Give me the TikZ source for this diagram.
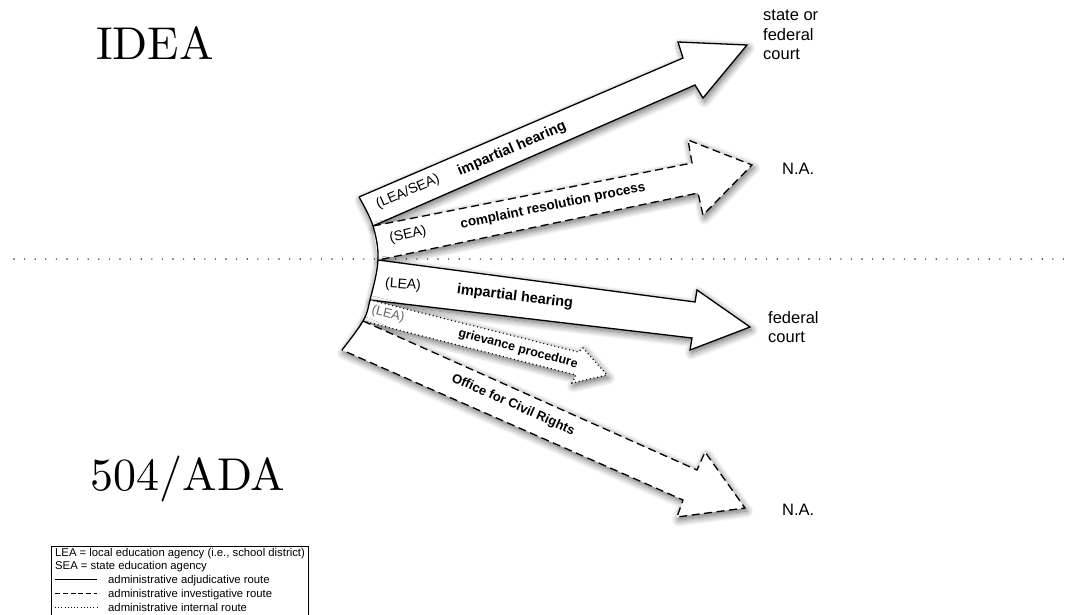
\documentclass[tikz,border=0pt]{standalone}
\usepackage{fontspec}
\newfontfamily\arial{Liberation Sans}
\newfontfamily\titlefont{lmroman10-regular}[Extension=.otf]
\usetikzlibrary{shadows.blur}
\begin{document}
\begin{tikzpicture}[x=1pt,y=-1pt,
  arrowfill/.style={fill=white, blur shadow={shadow xshift=1.5pt, shadow yshift=-3pt, shadow blur radius=7pt, shadow blur steps=10, shadow opacity=60}},
  solidedge/.style={draw=black, line width=1.3pt, line join=miter},
  dashedge/.style={draw=black, line width=1.3pt, dash pattern=on 8pt off 4.5pt},
  dotedge/.style={draw=black, line width=1.2pt, dash pattern=on 1pt off 2.8pt},
  tailline/.style={draw=black, line width=1.3pt},
  hdots/.style={draw=black!80, line width=1.6pt, line cap=round, dash pattern=on 0pt off 10.6pt},
  lbl/.style={font=\arial\fontsize{14}{16}\selectfont, inner sep=0pt},
  blbl/.style={font=\arial\bfseries\fontsize{14.5}{16}\selectfont, inner sep=0pt},
  dest/.style={font=\arial\fontsize{16.5}{19.5}\selectfont, align=left, inner sep=0pt},
  bigtitle/.style={font=\titlefont\fontsize{46}{56}\selectfont, inner sep=0pt, anchor=base},
  leg/.style={font=\arial\fontsize{11.3}{13}\selectfont, inner sep=0pt, anchor=base west},
  legbox/.style={draw=black, line width=0.7pt},
]
\useasboundingbox (0,0) rectangle (1078,615);
\clip (0,0) rectangle (1078,615);

% dotted divider
\coordinate (h0) at (14,259);
\coordinate (h1) at (1072,259);
\draw[hdots] (h0) -- (h1);

% tail points on the common curve
\coordinate (c0) at (359,197);
\coordinate (c1) at (373,226);
\coordinate (c2) at (378,260);
\coordinate (c3) at (370,300);
\coordinate (c4) at (363,321);
\coordinate (c5) at (342,350);

% arrow 1: IDEA impartial hearing
\coordinate (a1ju) at (683,58);  \coordinate (a1bu) at (678,42);
\coordinate (a1t) at (747,45);
\coordinate (a1bl) at (703,98);  \coordinate (a1jl) at (695,85);
\fill[arrowfill] (c0) -- (a1ju) -- (a1bu) -- (a1t) -- (a1bl) -- (a1jl) -- (c1) -- cycle;
\draw[solidedge] (c0) -- (a1ju) -- (a1bu) -- (a1t) -- (a1bl) -- (a1jl) -- (c1);

% arrow 2: complaint resolution process
\coordinate (a2ju) at (692,163); \coordinate (a2bu) at (688,140);
\coordinate (a2t) at (752,165);
\coordinate (a2bl) at (703,215); \coordinate (a2jl) at (698,193);
\fill[arrowfill] (c1) -- (a2ju) -- (a2bu) -- (a2t) -- (a2bl) -- (a2jl) -- (c2) -- cycle;
\draw[dashedge] (c1) -- (a2ju) -- (a2bu) -- (a2t) -- (a2bl) -- (a2jl) -- (c2);

% arrow 3: 504 impartial hearing
\coordinate (a3ju) at (695,302); \coordinate (a3bu) at (697,290);
\coordinate (a3t) at (750,327);
\coordinate (a3bl) at (690,350); \coordinate (a3jl) at (692,338);
\fill[arrowfill] (c2) -- (a3ju) -- (a3bu) -- (a3t) -- (a3bl) -- (a3jl) -- (c3) -- cycle;
\draw[solidedge] (c2) -- (a3ju) -- (a3bu) -- (a3t) -- (a3bl) -- (a3jl) -- (c3);

% arrow 4: grievance procedure
\coordinate (a4ju) at (578,352); \coordinate (a4bu) at (583,348);
\coordinate (a4t) at (607,375);
\coordinate (a4bl) at (572,383); \coordinate (a4jl) at (576,375);
\fill[arrowfill] (c3) -- (a4ju) -- (a4bu) -- (a4t) -- (a4bl) -- (a4jl) -- (c4) -- cycle;
\draw[dotedge] (c3) -- (a4ju) -- (a4bu) -- (a4t) -- (a4bl) -- (a4jl) -- (c4);

% arrow 5: Office for Civil Rights
\coordinate (a5ju) at (697,470); \coordinate (a5bu) at (705,452);
\coordinate (a5t) at (745,508);
\coordinate (a5bl) at (677,517); \coordinate (a5jl) at (683,500);
\fill[arrowfill] (c4) -- (a5ju) -- (a5bu) -- (a5t) -- (a5bl) -- (a5jl) -- (c5) -- cycle;
\draw[dashedge] (c4) -- (a5ju) -- (a5bu) -- (a5t) -- (a5bl) -- (a5jl) -- (c5);

% common tail curve
\draw[tailline] plot[smooth, tension=0.6] coordinates {(359,197) (373,226) (378,260) (370,300) (363,321) (342,350)};

% arrow labels
\node[lbl, rotate=23.5] (l1a) at (408,192) {(LEA/SEA)};
\node[blbl, rotate=23.5] (l1b) at (512,149) {impartial hearing};
\node[lbl, rotate=13] (l2a) at (408,235) {(SEA)};
\node[blbl, rotate=11.5, font=\arial\bfseries\fontsize{13.5}{16}\selectfont] (l2b) at (553,206) {complaint resolution process};
\node[lbl, rotate=-4] (l3a) at (403,285) {(LEA)};
\node[blbl, rotate=-7] (l3b) at (515,297) {impartial hearing};
\node[lbl, rotate=-14, text=black!60, font=\arial\fontsize{13}{15}\selectfont] (l4a) at (388,314) {(LEA)};
\node[blbl, rotate=-15, font=\arial\bfseries\fontsize{12.5}{15}\selectfont] (l4b) at (518,349) {grievance procedure};
\node[blbl, rotate=-24, font=\arial\bfseries\fontsize{13}{15}\selectfont] (l5) at (513,405) {Office for Civil Rights};

% destinations
\node[dest, anchor=north west] (d1) at (763,10) {state or\\federal\\court};
\node[dest, anchor=west] (d2) at (782,169) {N.A.};
\node[dest, anchor=north west] (d3) at (768,311) {federal\\court};
\node[dest, anchor=west] (d4) at (782,510) {N.A.};

% titles
\node[bigtitle] (t1) at (155,60) {IDEA};
\node[bigtitle] (t2) at (188,490) {504/ADA};

% legend
\draw[legbox] (51,546) rectangle (308,640);
\node[leg] (k1) at (55,556) {LEA = local education agency (i.e., school district)};
\node[leg] (k2) at (55,569.5) {SEA = state education agency};
\coordinate (s3a) at (55,579); \coordinate (s3b) at (97,579);
\draw[line width=0.9pt] (s3a) -- (s3b);
\node[leg] (k3) at (108,583) {administrative adjudicative route};
\coordinate (s4a) at (55,593); \coordinate (s4b) at (97,593);
\draw[line width=0.9pt, dash pattern=on 5pt off 2.8pt] (s4a) -- (s4b);
\node[leg] (k4) at (108,597) {administrative investigative route};
\coordinate (s5a) at (55,607); \coordinate (s5b) at (97,607);
\draw[line width=0.9pt, dash pattern=on 1pt off 2.2pt] (s5a) -- (s5b);
\node[leg] (k5) at (108,611) {administrative internal route};
\end{tikzpicture}
\end{document}
